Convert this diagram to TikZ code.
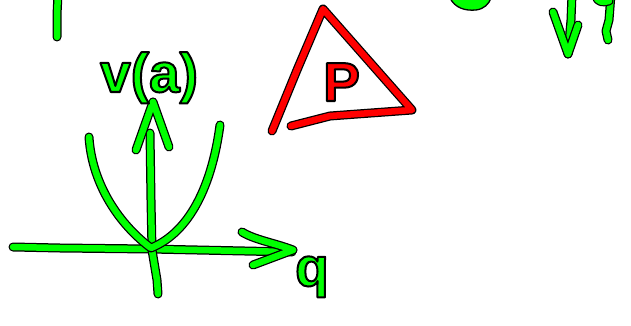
\documentclass[tikz,border=0pt]{standalone}
\usepackage{fontspec}
\setmainfont{Liberation Sans}
\definecolor{pen}{HTML}{00FF00}
\definecolor{redpen}{HTML}{FF0000}
\tikzset{
  outl/.style={draw=black, line width=9pt, line cap=round, line join=round},
  gstroke/.style={draw=pen, line width=6.5pt, line cap=round, line join=round, preaction={outl}},
  rstroke/.style={draw=redpen, line width=6.5pt, line cap=round, line join=round, preaction={outl}},
  hand/.style={font=\bfseries\fontsize{55}{55}\selectfont, inner sep=0pt, anchor=base west},
}
\newcommand\outlinedtext[1]{\special{pdf:literal direct 2 Tr 2 w 1 j 0 0 0 RG}#1\special{pdf:literal direct 0 Tr}}
\begin{document}
\begin{tikzpicture}[x=1pt,y=-1pt]
\fill[white] (0,0) rectangle (631,326);
\useasboundingbox (0,0) rectangle (631,326);
\clip (0,0) rectangle (631,326);

% fragments along the top edge
\draw[gstroke] (36,-5.5) -- (50,-5);
\draw[gstroke] (58,-6) -- (57,15) -- (57,37);
\path[draw=black, line width=1.3pt, fill=pen] (450,-2) .. controls (455,8) and (465,11) .. (476,10) .. controls (484,9) and (489,4) .. (491,-2) -- cycle;
\draw[gstroke] (572,-6) -- (571,20) -- (568,54);
\draw[gstroke] (553,12) -- (568,54) -- (578,25);
\draw[gstroke] (611,-6) -- (609,20) -- (606,31) -- (608,40);
\draw[gstroke] (596,-4) .. controls (597,2) and (603,3) .. (609,1);

% axes
\draw[gstroke] (13,247) -- (60,248) -- (150,249) -- (292,252);
\draw[gstroke] (242,232) .. controls (255,240) and (275,243) .. (293,250) -- (253,265);
\draw[gstroke] (150,133) -- (151,200) -- (152,250) -- (157,280) -- (158,294);
\draw[gstroke] (136,150) -- (153,102) -- (169,147);

% parabola
\draw[gstroke] (89,137) .. controls (92,185) and (120,225) .. (151,248) .. controls (190,232) and (212,185) .. (220,125);

% red triangle
\draw[rstroke] (272,131) -- (297,70) -- (323,9) -- (412,110) -- (330,116) -- (291,126);

% labels
\node[hand, text=pen] (va) at (100,92) {\outlinedtext{v(a)}};
\node[hand, text=pen] (q) at (295,286) {\outlinedtext{q}};
\node[hand, text=redpen] (P) at (323,101) {\outlinedtext{P}};
\end{tikzpicture}
\end{document}
